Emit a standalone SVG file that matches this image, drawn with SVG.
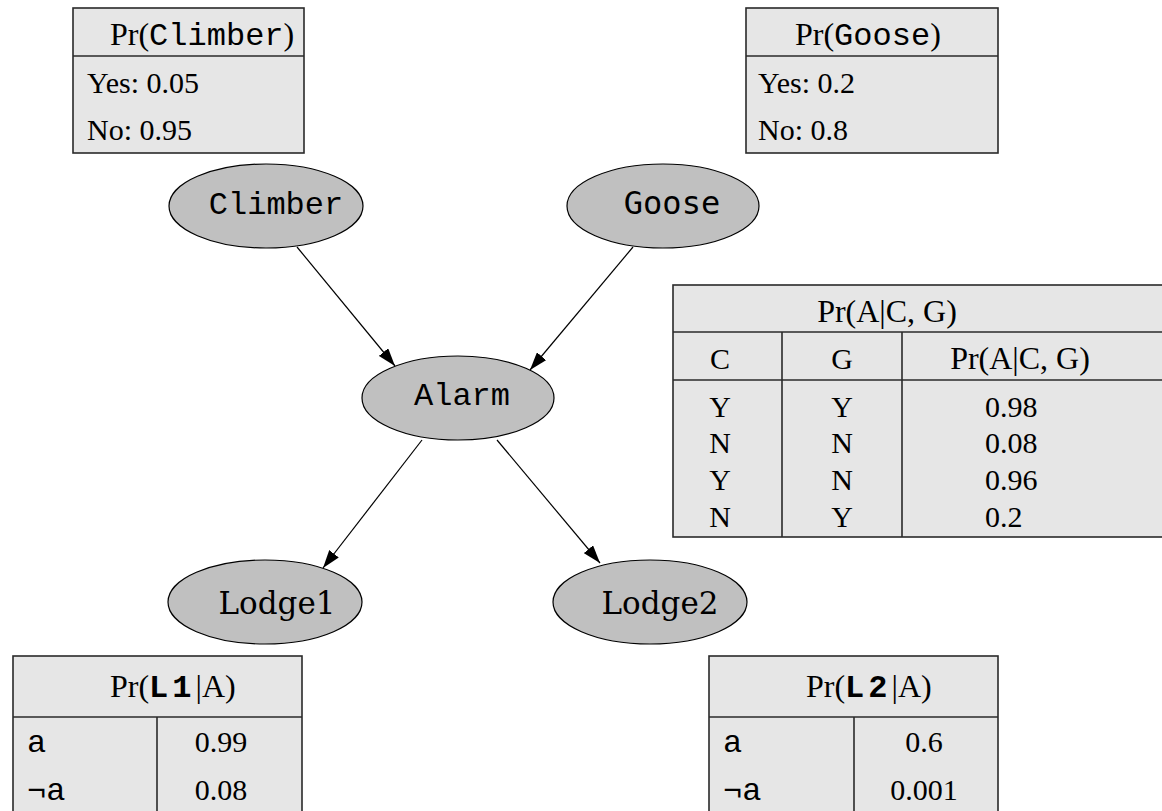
<svg xmlns="http://www.w3.org/2000/svg" width="1162" height="811" viewBox="0 0 1162 811">
<style>
.tbl{fill:#e6e6e6;stroke:#2a2a2a;stroke-width:1.6}
.ln{stroke:#2a2a2a;stroke-width:1.6;fill:none}
.node{fill:#c0c0c0;stroke:#000;stroke-width:1.2}
.edge{stroke:#000;stroke-width:1.2;fill:none;marker-end:url(#arr)}
.s{font-family:"Liberation Serif","DejaVu Serif",serif;font-size:30px;fill:#000}
.h{font-family:"Liberation Serif","DejaVu Serif",serif;font-size:32px;fill:#000}
.m{font-family:"Liberation Mono","DejaVu Sans Mono",monospace;font-size:32px;fill:#000}
.ms{font-family:"DejaVu Sans Mono","Liberation Mono",monospace;font-size:32px;fill:#000}
.ds{font-family:"DejaVu Serif","Liberation Serif",serif;font-size:31px;fill:#000}
.c{text-anchor:middle}
</style>
<defs>
<marker id="arr" markerWidth="18" markerHeight="12" refX="18" refY="6" orient="auto" markerUnits="userSpaceOnUse">
<path d="M0,0 L18,6 L0,12 z" fill="#000"/>
</marker>
</defs>
<rect width="1162" height="811" fill="#fff"/>

<g id="connectors">
<path class="edge" d="M297,247 L395,366"/>
<path class="edge" d="M633,247 L530,370"/>
<path class="edge" d="M422,440 L323,568"/>
<path class="edge" d="M497,440 L600,563"/>
</g>

<g id="table-climber">
<rect class="tbl" x="73" y="8" width="231" height="145"/>
<line class="ln" x1="73" y1="56" x2="304" y2="56"/>
<text x="110" y="45" class="h">Pr(<tspan class="m" font-size="33">Climber</tspan>)</text>
<text x="87" y="93" class="s">Yes: 0.05</text>
<text x="87" y="140" class="s">No: 0.95</text>
</g>

<g id="table-goose">
<rect class="tbl" x="746" y="8" width="252" height="145"/>
<line class="ln" x1="746" y1="56" x2="998" y2="56"/>
<text x="795" y="45" class="h">Pr(<tspan class="m" font-size="33">Goose</tspan>)</text>
<text x="758" y="93" class="s">Yes: 0.2</text>
<text x="758" y="140" class="s">No: 0.8</text>
</g>

<g id="node-climber">
<ellipse class="node" cx="266" cy="206" rx="97" ry="42"/>
<text x="276" y="214" class="m c">Climber</text>
</g>

<g id="node-goose">
<ellipse class="node" cx="663" cy="206" rx="96" ry="42"/>
<text x="672" y="214" class="ms c">Goose</text>
</g>

<g id="node-alarm">
<ellipse class="node" cx="458" cy="398" rx="96" ry="42"/>
<text x="462" y="405" class="m c">Alarm</text>
</g>

<g id="node-lodge1">
<ellipse class="node" cx="265" cy="602" rx="97" ry="42"/>
<text x="277" y="614" class="ds c">Lodge1</text>
</g>

<g id="node-lodge2">
<ellipse class="node" cx="650" cy="602" rx="97" ry="42"/>
<text x="660" y="614" class="ds c">Lodge2</text>
</g>

<g id="table-alarm">
<rect class="tbl" x="673" y="285" width="492" height="252"/>
<line class="ln" x1="673" y1="332" x2="1162" y2="332"/>
<line class="ln" x1="673" y1="380" x2="1162" y2="380"/>
<line class="ln" x1="782" y1="332" x2="782" y2="537"/>
<line class="ln" x1="902" y1="332" x2="902" y2="537"/>
<text x="887" y="322" class="h c">Pr(A|C, G)</text>
<text x="720" y="369" class="s c">C</text>
<text x="842" y="369" class="s c">G</text>
<text x="1020" y="369" class="h c">Pr(A|C, G)</text>
<text x="720" y="417" class="s c">Y</text>
<text x="842" y="417" class="s c">Y</text>
<text x="985" y="417" class="s">0.98</text>
<text x="720" y="453" class="s c">N</text>
<text x="842" y="453" class="s c">N</text>
<text x="985" y="453" class="s">0.08</text>
<text x="720" y="490" class="s c">Y</text>
<text x="842" y="490" class="s c">N</text>
<text x="985" y="490" class="s">0.96</text>
<text x="720" y="527" class="s c">N</text>
<text x="842" y="527" class="s c">Y</text>
<text x="985" y="527" class="s">0.2</text>
</g>

<g id="table-lodge1">
<rect class="tbl" x="13" y="656" width="289" height="180"/>
<line class="ln" x1="13" y1="717" x2="302" y2="717"/>
<line class="ln" x1="157" y1="717" x2="157" y2="836"/>
<text x="110" y="697" class="h">Pr(<tspan class="m" font-weight="bold" letter-spacing="4">L1</tspan>|A)</text>
<text x="27" y="752" class="m">a</text>
<text x="221" y="752" class="s c">0.99</text>
<text x="27" y="800" class="m">¬a</text>
<text x="221" y="800" class="s c">0.08</text>
</g>

<g id="table-lodge2">
<rect class="tbl" x="709" y="656" width="289" height="180"/>
<line class="ln" x1="709" y1="717" x2="998" y2="717"/>
<line class="ln" x1="854" y1="717" x2="854" y2="836"/>
<text x="806" y="697" class="h">Pr(<tspan class="m" font-weight="bold" letter-spacing="4">L2</tspan>|A)</text>
<text x="723" y="752" class="m">a</text>
<text x="924" y="752" class="s c">0.6</text>
<text x="723" y="800" class="m">¬a</text>
<text x="924" y="800" class="s c">0.001</text>
</g>
</svg>
